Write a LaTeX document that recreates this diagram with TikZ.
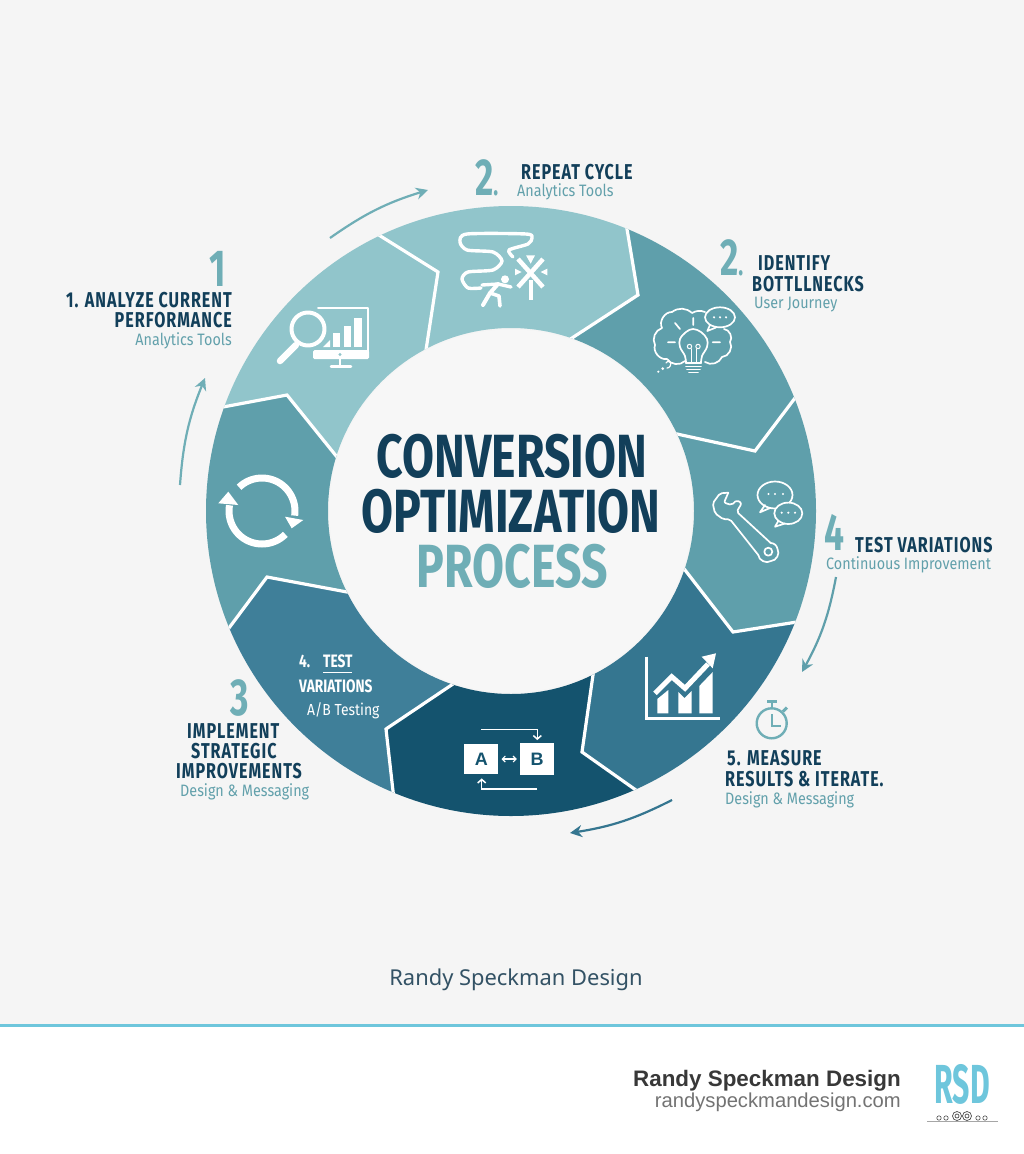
\documentclass[tikz,border=0pt]{standalone}
\usepackage{fontspec}
\usetikzlibrary{calc,arrows.meta}
\newfontfamily\condfont[FakeStretch=0.75,LetterSpace=4.5]{Fira Sans}
\newfontfamily\titlefont[FakeStretch=0.76]{Fira Sans}
\newfontfamily\numfont[FakeStretch=0.68]{Fira Sans}
\newfontfamily\rsdfont[FakeStretch=0.55]{Fira Sans}
\newfontfamily\subfont[FakeStretch=0.87]{Fira Sans}
\newfontfamily\notofont{Noto Sans}
\newfontfamily\liberfont{Liberation Sans}
\definecolor{pagebg}{HTML}{F5F5F5}
\definecolor{holebg}{HTML}{F7F7F7}
\definecolor{navy}{HTML}{123F5A}
\definecolor{tealnum}{HTML}{6FAEB6}
\definecolor{tealsub}{HTML}{62A0AB}
\definecolor{segA}{HTML}{91C5CB}
\definecolor{segB}{HTML}{5F9FAB}
\definecolor{segC}{HTML}{357690}
\definecolor{segD}{HTML}{3F7F99}
\definecolor{segE}{HTML}{14536E}
\definecolor{rsdblue}{HTML}{6EC6DC}
\newcommand{\smalldot}{{\fontsize{30}{30}\selectfont.}}
\tikzset{
  headlbl/.style={inner sep=0pt,text=navy,font=\condfont\bfseries\fontsize{21.5}{24}\selectfont},
  varlbl/.style={inner sep=0pt,text=white,anchor=base west,font=\titlefont\bfseries\fontsize{18}{20}\selectfont},
  sublbl/.style={inner sep=0pt,text=tealsub,font=\subfont\fontsize{16.5}{20}\selectfont},
  numlbl/.style={inner sep=0pt,text=tealnum,font=\numfont\bfseries\fontsize{52}{56}\selectfont},
  titlelbl/.style={inner sep=0pt,anchor=base,font=\titlefont\bfseries\fontsize{61}{66}\selectfont},
  iconline/.style={white,line width=#1,line cap=round,line join=round},
  iconline/.default=1.7pt,
  flowarrow/.style={line width=2.2pt,-{Stealth[length=12pt,width=12pt]}},
  segdivider/.style={white,line width=3.2pt,line join=miter}
}
\begin{document}
\begin{tikzpicture}[x=1pt,y=-1pt]
\useasboundingbox (0,0) rectangle (1024,1154);
\fill[pagebg] (0,0) rectangle (1024,1025);
\fill[white] (0,1025) rectangle (1024,1154);
\draw[rsdblue,line width=3pt] (0,1025) -- (1024,1025);

\coordinate (c) at (511,511);
% ring dividers: inner end, notch, outer end
\coordinate (i1) at (337,457); \coordinate (n1) at (287,395); \coordinate (o1) at (223,407);
\coordinate (i2) at (426,350); \coordinate (n2) at (438,272); \coordinate (o2) at (382,237);
\coordinate (i3) at (572,338); \coordinate (n3) at (638,295); \coordinate (o3) at (627,229);
\coordinate (i4) at (677,434); \coordinate (n4) at (755,451); \coordinate (o4) at (795,398);
\coordinate (i5) at (685,570); \coordinate (n5) at (733,632); \coordinate (o5) at (797,622);
\coordinate (i6) at (593,675); \coordinate (n6) at (582,752); \coordinate (o6) at (633,788);
\coordinate (i7) at (453,684); \coordinate (n7) at (386,729); \coordinate (o7) at (393,791);
\coordinate (i8) at (347,592); \coordinate (n8) at (267,577); \coordinate (o8) at (229,628);

\begin{scope}[even odd rule]
  \clip (c) circle[radius=305] (c) circle[radius=183];
  \foreach \a/\b/\col in {1/2/segA,2/3/segA,3/4/segB,4/5/segB,5/6/segC,6/7/segE,7/8/segD,8/1/segB}{
    \fill[\col] (c) -- (i\a) -- (n\a) -- ($(n\a)!3!(o\a)$) -- ($(n\b)!3!(o\b)$) -- (n\b) -- (i\b) -- cycle;
  }
  \foreach \a in {1,...,8}{
    \draw[segdivider] ($(n\a)!1.2!(i\a)$) -- (n\a) -- ($(n\a)!1.2!(o\a)$);
  }
\end{scope}
\fill[holebg] (c) circle[radius=181.5];

% title
\node[titlelbl,text=navy] at (512,477) (title1) {CONVERSION};
\node[titlelbl,text=navy] at (511,532) (title2) {OPTIMIZATION};
\node[titlelbl,text=tealnum] at (512,587) (title3) {PROCESS};

% flow arrows round the ring
\coordinate (f1a) at (330,238); \coordinate (f1b) at (428,190);
\coordinate (f2a) at (180,485); \coordinate (f2b) at (205,378);
\coordinate (f3a) at (836,577); \coordinate (f3b) at (802,672);
\coordinate (f4a) at (672,800); \coordinate (f4b) at (570,833);
\draw[flowarrow,tealnum] (f1a) to[bend left=9] (f1b);
\draw[flowarrow,tealnum] (f2a) to[bend left=9] (f2b);
\draw[flowarrow,segB] (f3a) to[bend left=9] (f3b);
\draw[flowarrow,segC] (f4a) to[bend left=9] (f4b);

% labels
\node[numlbl,anchor=base west] at (209,286) (num1) {1};
\node[headlbl,anchor=base east] at (232,307) (ana1) {1. ANALYZE CURRENT};
\node[headlbl,anchor=base east] at (232,327) (ana2) {PERFORMANCE};
\node[sublbl,anchor=base east] at (232,345) (ana3) {Analytics Tools};

\node[numlbl,anchor=base west] at (475,195) (num2) {2\smalldot};
\node[headlbl,anchor=base west] at (521,179) (rep1) {REPEAT CYCLE};
\node[sublbl,anchor=base west] at (517,196) (rep2) {Analytics Tools};

\node[numlbl,anchor=base west] at (720,275) (num3) {2\smalldot};
\node[headlbl,anchor=base west] at (758,270) (idn1) {IDENTIFY};
\node[headlbl,anchor=base west] at (752,291) (idn2) {BOTTLLNECKS};
\node[sublbl,anchor=base west] at (754,308) (idn3) {User Journey};

\node[numlbl,anchor=base west] at (824,550) (num4) {4};
\node[headlbl,anchor=base west] at (855,552) (tst1) {TEST VARIATIONS};
\node[sublbl,anchor=base west] at (826,569) (tst2) {Continuous Improvement};

\node[headlbl,anchor=base west] at (727,765) (mea1) {5. MEASURE};
\node[headlbl,anchor=base west] at (725,786) (mea2) {RESULTS \& ITERATE.};
\node[sublbl,anchor=base west] at (725,804) (mea3) {Design \& Messaging};

\node[numlbl,anchor=base] at (240,715) (num5) {3};
\node[headlbl,anchor=base west] at (187,738) (imp1) {IMPLEMENT};
\node[headlbl,anchor=base west] at (191,758) (imp2) {STRATEGIC};
\node[headlbl,anchor=base west] at (176,778) (imp3) {IMPROVEMENTS};
\node[sublbl,anchor=base west] at (180,796) (imp4) {Design \& Messaging};

\node[varlbl] at (299,667) (var0) {4.};
\node[varlbl] at (323,667) (var1) {TEST};
\draw[white,line width=1pt] ($(var1.south west)+(0,5)$) -- ($(var1.south east)+(-1,5)$);
\node[varlbl] at (299,692) (var2) {VARIATIONS};
\node[sublbl,text=white,anchor=base west,font=\subfont\fontsize{16}{18}\selectfont] at (307,715) (var3) {A/B Testing};

% icon: magnifier and monitor
\draw[iconline=4pt] (308,329) circle[radius=16.5];
\draw[iconline=6.5pt] (296,345) -- (280,361);
\draw[iconline=2pt] (318,308) -- (368,308) -- (368,352);
\fill[white,rounded corners=1.5pt] (313,350) rectangle (369,359);
\fill[segA] (340,354.5) circle[radius=1.6];
\draw[iconline=2.5pt] (340,359) -- (340,366);
\draw[iconline=2.5pt] (331,366.5) -- (351,366.5);
\fill[white] (323,347) -- (330,340) -- (330,347) -- cycle;
\fill[white] (333,333) rectangle (340,347);
\fill[white] (344,326) rectangle (351,347);
\fill[white] (354,318) rectangle (362,347);

% icon: winding road, runner and sign
\draw[iconline=3.4pt] plot[smooth,tension=0.45] coordinates {(513,257) (509,250) (528,244) (532,238) (526,234) (467,234) (460,242) (467,250) (493,252) (502,261) (493,270) (468,272) (462,279) (468,288) (481,288)};
\fill[white] (505,279.3) circle[radius=4];
\draw[iconline=3.4pt] (482,285) -- (498,284) -- (511,287);
\draw[iconline=4pt] (498,284) -- (490,293) -- (483,305);
\draw[iconline=3.6pt] (490,293) -- (499,296) -- (500,306);
\draw[iconline=4.5pt,line cap=butt] (518,259) -- (543,287);
\draw[iconline=4.5pt,line cap=butt] (543,259) -- (518,287);
\draw[iconline=3.6pt,line cap=butt] (530.7,280) -- (530.7,300);
\fill[white] (526,255.3) -- (535,255.3) -- (530.7,263.7) -- cycle;
\fill[white] (515,268.7) -- (515,275.3) -- (521.7,272) -- cycle;
\fill[white] (547.3,268.7) -- (547.3,275.3) -- (540.7,272) -- cycle;

% icon: thought cloud and lamp
\draw[iconline] (685,361) to[bend left=50] (667,359) to[bend left=60] (655,345) to[bend left=50] (662,328) to[bend left=60] (672,312) to[bend left=40] (692,313) to[bend left=25] (705,312);
\draw[iconline] (724,329) to[bend left=60] (730,342) to[bend left=60] (722,357) to[bend left=50] (705,362);
\draw[iconline,fill=segB] (710,325) -- (707.3,331) -- (716,327.5);
\draw[iconline] (720,317.3) ellipse[x radius=15,y radius=10];
\foreach \dx in {714,720,726}{\fill[white] (\dx,317.3) circle[radius=1.2];}
\draw[iconline] plot[smooth,tension=0.6] coordinates {(686,363) (685,356) (680,347) (680,339) (686,332) (693,329) (701,332) (707,339) (707,347) (702,356) (701,363)};
\draw[iconline] (686,363) -- (701,363);
\draw[iconline=1.2pt] (691.7,363) -- (691.7,349) (696.7,363) -- (696.7,349);
\draw[iconline=1pt] (689.5,346.5) circle[radius=2.2] (698,346.5) circle[radius=2.2];
\draw[iconline=1.8pt] (686,366.5) -- (701,366.5) (687,369.5) -- (700,369.5) (689,372.5) -- (698,372.5);
\draw[iconline] (693.3,318) -- (693.3,325) (675,323) -- (680,329) (668,342.3) -- (675,342.3) (712.7,342.3) -- (720,342.3);
\fill[white] (658.3,371.7) circle[radius=1.2] (662.7,368.7) circle[radius=1.5];
\draw[iconline=1.2pt] (667,368) to[bend right=80] (670,362) to[bend right=70] (666,363);

% icon: wrench and speech bubbles
\draw[iconline,rounded corners=2pt] (728.3,492.7) -- (720,493.3) -- (712.7,503.3) -- (715,513.3) -- (723.3,519.3) -- (730,519.3) -- (758.3,555);
\draw[iconline,rounded corners=2pt] (770.7,543) -- (736.7,511.7) -- (741.7,503.3) -- (736.7,500) -- (731.7,505) -- (724,502.7) -- (728.3,492.7);
\draw[iconline] (758.3,555) to[bend right=60] (771,561) to[bend right=60] (777.5,549) to[bend right=40] (770.7,543);
\draw[iconline] (768.3,551.7) circle[radius=4];
\draw[iconline] (775,495) ellipse[x radius=17.5,y radius=13.5];
\draw[iconline] (765,505) -- (760,512.3) -- (770,508);
\draw[iconline,fill=segB] (788.3,513.3) ellipse[x radius=14,y radius=10.7];
\draw[iconline] (778.3,521) -- (775,526.7) -- (785,523.5);
\foreach \dx in {768.5,775,783}{\fill[white] (\dx,494) circle[radius=1.2];}
\foreach \dx in {781.7,788.3,795}{\fill[white] (\dx,512.7) circle[radius=1.2];}

% icon: rising chart
\draw[iconline=2.5pt,line cap=butt,line join=miter] (646.7,656.7) -- (646.7,718.3) -- (720,718.3);
\fill[white] (657.3,713.3) -- (657.3,699) -- (668.3,690) -- (668.3,713.3) -- cycle;
\fill[white] (678.3,713.3) -- (678.3,692) -- (684.5,698) -- (691.7,691) -- (691.7,713.3) -- cycle;
\fill[white] (699.3,713.3) -- (699.3,686) -- (712.7,672) -- (712.7,713.3) -- cycle;
\draw[segC,line width=8.5pt,line cap=butt] (655,693.3) -- (671.7,676.7) -- (685,688.3) -- (708,664);
\draw[iconline=5pt,line cap=butt,line join=miter] (655,693.3) -- (671.7,676.7) -- (685,688.3) -- (708,664);
\fill[white] (701.7,656.7) -- (716,653.3) -- (712.7,668.3) -- cycle;

% icon: A and B boxes
\node[fill=white,text=segE,inner sep=0pt,minimum width=34pt,minimum height=30.5pt,font=\liberfont\bfseries\fontsize{18}{20}\selectfont] at (481.3,759) (boxA) {A};
\node[fill=white,text=segE,inner sep=0pt,minimum width=34pt,minimum height=31.5pt,font=\liberfont\bfseries\fontsize{18}{20}\selectfont] at (537,759) (boxB) {B};
\draw[white,line width=1.1pt,{Straight Barb[length=3pt,width=6pt]}-{Straight Barb[length=3pt,width=6pt]}] ($(boxA.east)+(3,0)$) -- ($(boxB.west)+(-3,0)$);
\coordinate (ab1) at (481,729.3); \coordinate (ab2) at (537.3,729.3);
\coordinate (ab3) at (537.3,789); \coordinate (ab4) at (481.7,789);
\draw[white,line width=1.5pt,-{Straight Barb[length=3.5pt,width=8pt]}] (ab1) -- (ab2) -- ($(boxB.north)+(0.3,-3)$);
\draw[white,line width=1.5pt,-{Straight Barb[length=3.5pt,width=8pt]}] (ab3) -- (ab4) -- ($(boxA.south)+(0.4,4)$);

% icon: cycle arrows
\draw[iconline=7pt,line cap=butt] plot[domain=190:45,samples=30] ({262+33*cos(\x)},{511+33*sin(\x)});
\draw[iconline=7pt,line cap=butt] plot[domain=226:368,samples=30] ({262+33*cos(\x)},{511+33*sin(\x)});
\fill[white] (218.3,503.3) -- (228.3,491.7) -- (238.3,505) -- cycle;
\fill[white] (285,516.7) -- (303.3,520) -- (291.7,528.3) -- cycle;

% icon: stopwatch
\draw[tealnum,line width=2.4pt] (771.7,723.3) circle[radius=15];
\draw[tealnum,line width=3pt] (767,701.5) -- (776.5,701.5);
\draw[tealnum,line width=2.4pt] (771.7,702) -- (771.7,708);
\draw[tealnum,line width=3pt] (783,711.5) -- (787,707.5);
\draw[tealnum,line width=2pt] (771.7,714) -- (771.7,726) -- (781,726);

% footer
\node[inner sep=0pt,anchor=base,text=navy!70!gray,font=\notofont\fontsize{21.9}{24}\selectfont] at (516,985) (credit) {Randy Speckman Design};
\node[inner sep=0pt,anchor=base east,text=black!78,font=\liberfont\bfseries\fontsize{22.4}{26}\selectfont] at (901,1086) (brand) {Randy Speckman Design};
\node[inner sep=0pt,anchor=base east,text=black!55,font=\liberfont\fontsize{20.2}{24}\selectfont] at (901,1107) (site) {randyspeckmandesign.com};
\node[inner sep=0pt,anchor=base,text=rsdblue,font=\rsdfont\bfseries\fontsize{55}{58}\selectfont] at (962,1103) (rsd) {RSD};

% ornament under the logo
\draw[black!35,line width=0.4pt] (927,1121) -- (998,1121);
\draw[black!70,line width=0.7pt] (957,1116) circle[radius=4.5] (967,1116) circle[radius=4.5] (957,1116) circle[radius=2] (967,1116) circle[radius=2];
\foreach \ox in {939,946,978,985}{\draw[black!70,line width=0.6pt] (\ox,1118) circle[radius=2.2];}
\end{tikzpicture}
\end{document}
